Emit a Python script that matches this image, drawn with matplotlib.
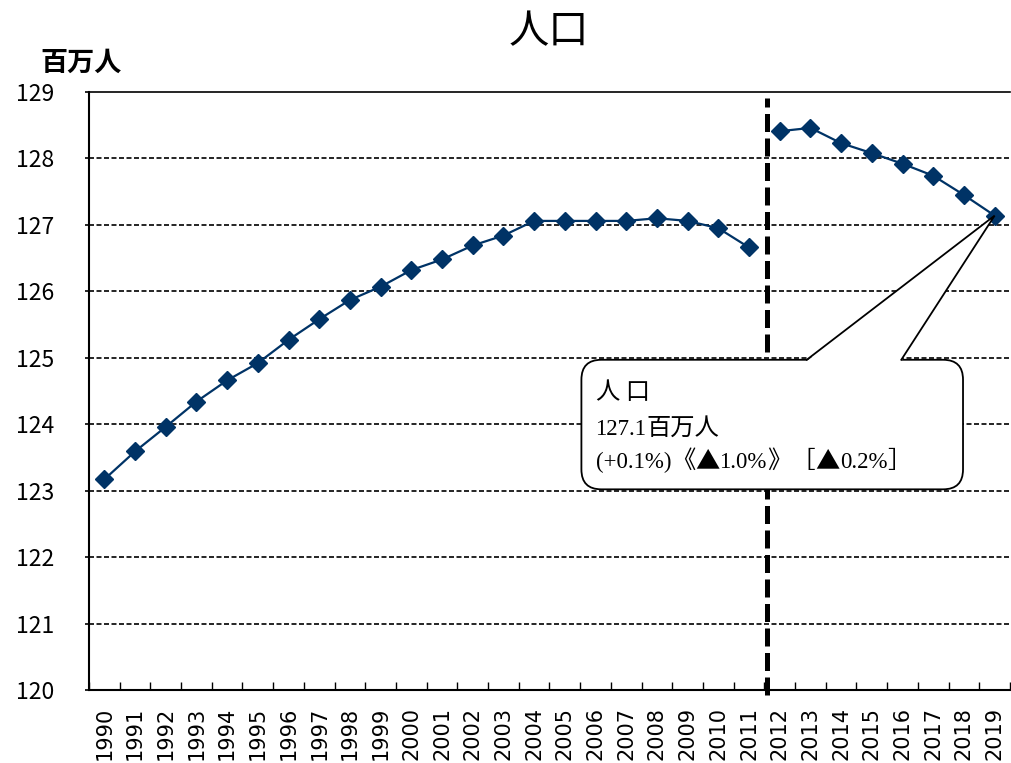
import matplotlib
matplotlib.use("Agg")
import matplotlib.pyplot as plt
from matplotlib.patches import FancyBboxPatch, Polygon
from matplotlib.ticker import FixedLocator
import numpy as np

plt.rcParams['font.family'] = ['Noto Sans CJK JP', 'DejaVu Sans']

years = [str(y) for y in range(1990, 2020)]
# population, millions (two series separated at the 2011/2012 break)
pop_before = [123.17, 123.59, 123.96, 124.34, 124.66, 124.92, 125.27, 125.58,
              125.87, 126.07, 126.32, 126.48, 126.69, 126.84, 127.06, 127.06,
              127.06, 127.06, 127.10, 127.06, 126.95, 126.66]
pop_after = [128.41, 128.46, 128.23, 128.08, 127.92, 127.74, 127.45, 127.14]
# callout lines, split into pieces so CJK signs come from the CJK font
callout_title = ["人 口"]
callout_value = ["127.1", "百万人"]
callout_change = ["(+0.1%)", "《", "▲", "1.0%", "》［", "▲", "0.2%", "］"]

navy = "#003366"
serif = ['Liberation Serif', 'Noto Sans CJK JP']
cjk = ['Noto Sans CJK JP']

fig = plt.figure(figsize=(10.11, 7.63), dpi=100)
ax = fig.add_axes([0.088, 0.0957, 0.911, 0.7837])

x1 = np.arange(len(pop_before))
x2 = np.arange(len(pop_before), len(years))
ax.plot(x1, pop_before, color=navy, lw=1.6, marker="D", ms=9, zorder=4)
ax.plot(x2, pop_after, color=navy, lw=1.6, marker="D", ms=9, zorder=4)

ax.set_xlim(-0.5, len(years) - 0.5)
ax.set_ylim(120, 129)

# horizontal dashed grid
for v in range(121, 129):
    ax.axhline(v, color="black", lw=1.2, dashes=(3, 1.5), zorder=1)

# break line between 2011 and 2012
ax.axvline(len(pop_before) - 0.4, ymin=-0.008, ymax=0.99, color="black",
           lw=3.6, dashes=(3.6, 1.3), zorder=3, clip_on=False)

ax.spines["right"].set_visible(False)
ax.spines["top"].set_linewidth(1.2)
ax.spines["left"].set_linewidth(1.5)
ax.spines["bottom"].set_linewidth(1.5)

ax.yaxis.set_major_locator(FixedLocator(range(120, 130)))
ax.tick_params(axis="y", direction="out", length=3, width=1.2, pad=22,
               labelsize=16.5)
ax.xaxis.set_major_locator(FixedLocator(np.arange(len(years))))
ax.set_xticklabels(years, rotation=90, fontsize=15, family="DejaVu Sans")
ax.xaxis.set_minor_locator(FixedLocator(np.arange(len(years) + 1) - 0.5))
ax.tick_params(axis="x", which="major", length=0, pad=12)
ax.tick_params(axis="x", which="minor", direction="in", length=6, width=1)

fig.text(0.543, 0.958, "人口", ha="center", va="center", fontsize=29)
fig.text(0.04, 0.918, "百万人", ha="left", va="center", fontsize=19.5,
         fontweight="bold")

# callout box pointing at the last value
tip_x, tip_y = x2[-1], pop_after[-1]
box = FancyBboxPatch((15.54, 123.02), 12.43, 1.95,
                     boxstyle="round,pad=0,rounding_size=0.65",
                     mutation_aspect=0.46, facecolor="white",
                     edgecolor="black", lw=1.3, zorder=6)
ax.add_patch(box)
base_l, base_r, base_y = 22.88, 25.96, 124.97
ax.add_patch(Polygon([(base_l, base_y - 0.02), (tip_x, tip_y),
                      (base_r, base_y - 0.02)], closed=True,
                     facecolor="white", edgecolor="none", zorder=7))
ax.plot([base_l, tip_x, base_r], [base_y, tip_y, base_y], color="black",
        lw=1.3, zorder=8, solid_joinstyle="miter")

renderer = fig.canvas.get_renderer()


def write_line(pieces, y):
    xpos = 16.0
    for seg in pieces:
        if seg[0] in "(0123456789":
            t = ax.text(xpos, y, seg, ha="left", va="baseline",
                        fontsize=16.5, family=serif, zorder=9)
        else:
            t = ax.text(xpos, y, seg, ha="left", va="baseline",
                        fontsize=17.5, family=cjk, zorder=9)
        bb = t.get_window_extent(renderer)
        xpos = ax.transData.inverted().transform((bb.x1, bb.y0))[0]


write_line(callout_title, 124.38)
write_line(callout_value, 123.84)
write_line(callout_change, 123.34)

fig.savefig("out.png", dpi=100)
